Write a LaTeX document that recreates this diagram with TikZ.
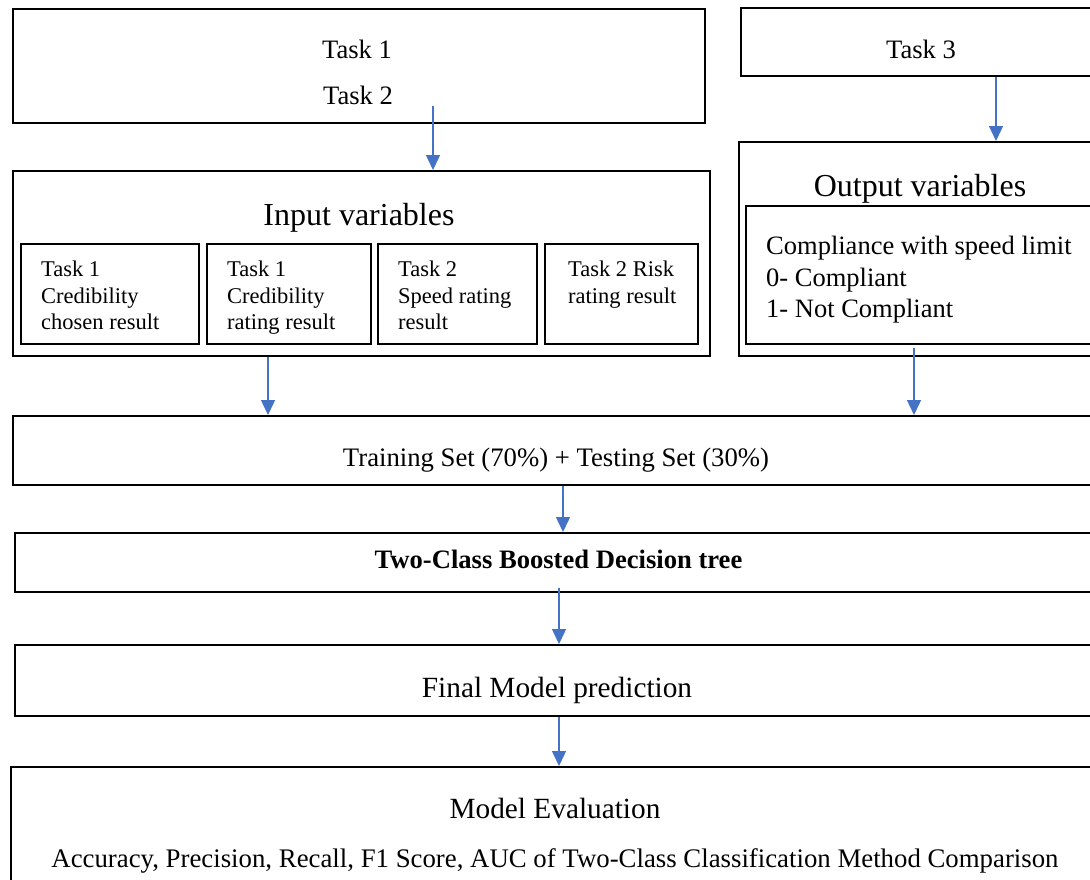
\documentclass[tikz,border=0pt]{standalone}
\usepackage{fontspec}
\setmainfont{Liberation Serif}
\usetikzlibrary{arrows.meta,calc}
\definecolor{arrowblue}{RGB}{68,114,196}
\begin{document}
\begin{tikzpicture}[x=1pt,y=-1pt,
  box/.style={draw,line width=1.6pt,inner sep=0pt,anchor=north west},
  arr/.style={draw=arrowblue,fill=arrowblue,line width=1.4pt,-{Triangle[length=15pt,width=14pt]}},
  txt/.style={inner sep=0pt,font=\fontsize{26.6}{31}\selectfont},
  head/.style={inner sep=0pt,font=\fontsize{32}{36}\selectfont},
  small/.style={inner sep=0pt,anchor=north west,align=left,font=\fontsize{22.5}{26.3}\selectfont},
  big/.style={inner sep=0pt,font=\fontsize{29.3}{34}\selectfont}]
\clip (0,0) rectangle (1090,879);
\fill[white] (0,0) rectangle (1090,879);
% boxes
\node[box,minimum width=692pt,minimum height=114pt] (top) at (12,8) {};
\node[box,minimum width=400pt,minimum height=68pt] (task3) at (740,7) {};
\node[box,minimum width=400pt,minimum height=214pt] (out) at (738,141) {};
\node[box,minimum width=400pt,minimum height=138pt] (outin) at (745,205) {};
\node[box,minimum width=697pt,minimum height=185pt] (inp) at (12,170) {};
\node[box,minimum width=178pt,minimum height=100pt] (i1) at (20,243) {};
\node[box,minimum width=164pt,minimum height=100pt] (i2) at (206,243) {};
\node[box,minimum width=159pt,minimum height=100pt] (i3) at (377,243) {};
\node[box,minimum width=153pt,minimum height=100pt] (i4) at (544,243) {};
\node[box,minimum width=1100pt,minimum height=69pt] (train) at (12,415) {};
\node[box,minimum width=1100pt,minimum height=59pt] (tc) at (14,532) {};
\node[box,minimum width=1100pt,minimum height=71pt] (fin) at (14,644) {};
\node[box,minimum width=1100pt,minimum height=200pt] (eval) at (10,766) {};
% texts
\node[txt] (t1) at (357,49) {Task 1};
\node[txt] (t2) at (358,95.5) {Task 2};
\node[txt] (t3) at (921,49) {Task 3};
\node[head] (inlabel) at (359,218) {Input variables};
\node[head] (outlabel) at (920,188.5) {Output variables};
\node[small] (i1t) at (41,261) {Task 1\\Credibility\\chosen result};
\node[small] (i2t) at (227,261) {Task 1\\Credibility\\rating result};
\node[small] (i3t) at (398,261) {Task 2\\Speed rating\\result};
\node[small] (i4t) at (568,261) {Task 2 Risk\\rating result};
\node[inner sep=0pt,anchor=north west,align=left,font=\fontsize{26.5}{31.6}\selectfont] (outt) at (766,236) {Compliance with speed limit\\0- Compliant\\1- Not Compliant};
\node[inner sep=0pt,font=\fontsize{26.7}{31}\selectfont] (trt) at (556,460) {Training Set (70\%) + Testing Set (30\%)};
\node[inner sep=0pt,font=\fontsize{26.6}{31}\selectfont\bfseries] (tct) at (558.5,559) {Two-Class Boosted Decision tree};
\node[big] (fint) at (557,690) {Final Model prediction};
\node[big] (evt) at (555,808) {Model Evaluation};
\node[inner sep=0pt,font=\fontsize{26.8}{31}\selectfont] (evt2) at (555,861) {Accuracy, Precision, Recall, F1 Score, AUC of Two-Class Classification Method Comparison};
% arrows
\coordinate (a1s) at (433,106);
\draw[arr] (a1s) -- (a1s |- inp.north);
\coordinate (a2s) at (996,75);
\draw[arr] (a2s |- task3.south) -- (a2s |- out.north);
\coordinate (a3s) at (268,355);
\draw[arr] (a3s |- inp.south) -- (a3s |- train.north);
\coordinate (a4s) at (914,348);
\draw[arr] (a4s) -- (a4s |- train.north);
\coordinate (a5s) at (563,484);
\draw[arr] (a5s |- train.south) -- (a5s |- tc.north);
\coordinate (a6s) at (559,588);
\draw[arr] (a6s) -- (a6s |- fin.north);
\coordinate (a7s) at (559,715);
\draw[arr] (a7s |- fin.south) -- (a7s |- eval.north);
\end{tikzpicture}
\end{document}
